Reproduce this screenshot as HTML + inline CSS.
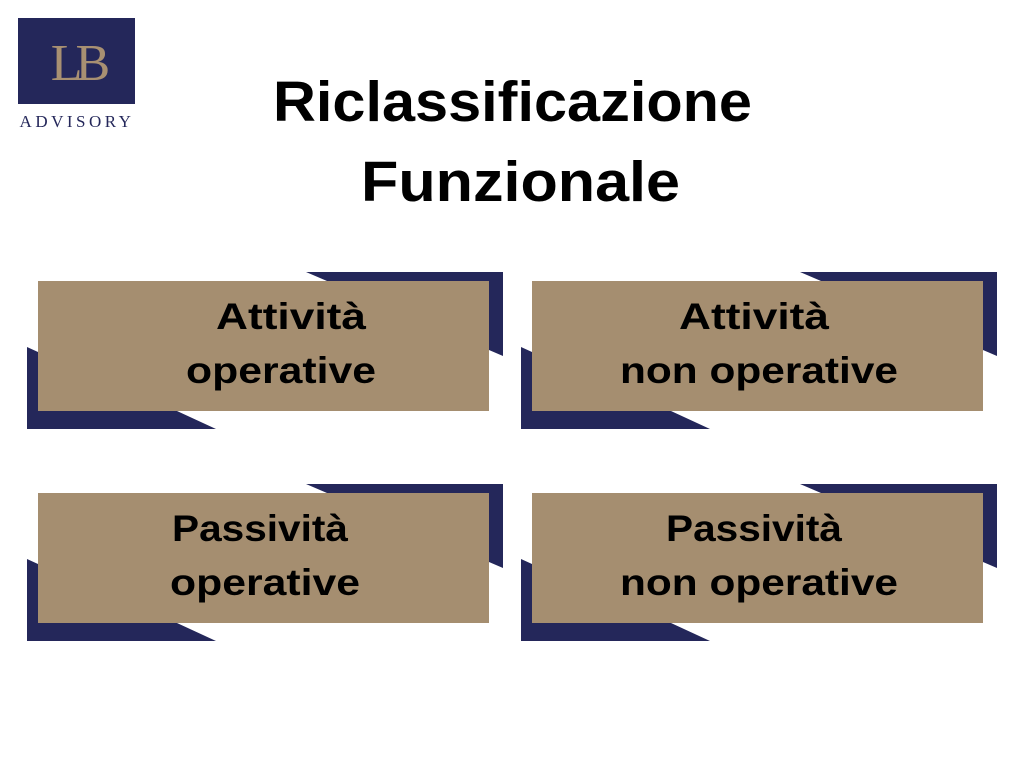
<!DOCTYPE html>
<html><head><meta charset="utf-8"><style>
html,body{margin:0;padding:0;background:#fff;width:1024px;height:768px;overflow:hidden}
</style></head><body>
<svg width="1024" height="768" xmlns="http://www.w3.org/2000/svg">
<rect x="18" y="18" width="117" height="86" fill="#24275a"/>
<text x="77" y="80" text-anchor="middle" font-family="Liberation Serif, serif" font-size="52" fill="#a89072" letter-spacing="-7">LB</text>
<text x="77" y="127" text-anchor="middle" font-family="Liberation Serif, serif" font-size="17" fill="#24275a" letter-spacing="3.5">ADVISORY</text>
<g font-family="Liberation Sans, sans-serif" font-weight="bold" font-size="57" fill="#000">
<text x="273" y="121" textLength="479" lengthAdjust="spacingAndGlyphs">Riclassificazione</text>
<text x="361" y="201" textLength="319" lengthAdjust="spacingAndGlyphs">Funzionale</text>
</g>
<defs>
<g id="box">
<polygon points="306,272 503,272 503,356 489,350 489,281 327,281" fill="#24275a"/>
<polygon points="27,347 38,352 38,411 177,411 216,429 27,429" fill="#24275a"/>
<rect x="38" y="281" width="451" height="130" fill="#a58e70"/>
</g>
</defs>
<use href="#box"/>
<use href="#box" transform="translate(494,0)"/>
<use href="#box" transform="translate(0,212)"/>
<use href="#box" transform="translate(494,212)"/>
<g font-family="Liberation Sans, sans-serif" font-weight="bold" font-size="37" fill="#000" lengthAdjust="spacingAndGlyphs">
<text x="216" y="329" textLength="150" lengthAdjust="spacingAndGlyphs">Attività</text>
<text x="186" y="383" textLength="190" lengthAdjust="spacingAndGlyphs">operative</text>
<text x="679" y="329" textLength="150" lengthAdjust="spacingAndGlyphs">Attività</text>
<text x="620" y="383" textLength="278" lengthAdjust="spacingAndGlyphs">non operative</text>
<text x="172" y="541" textLength="176" lengthAdjust="spacingAndGlyphs">Passività</text>
<text x="170" y="595" textLength="190" lengthAdjust="spacingAndGlyphs">operative</text>
<text x="666" y="541" textLength="176" lengthAdjust="spacingAndGlyphs">Passività</text>
<text x="620" y="595" textLength="278" lengthAdjust="spacingAndGlyphs">non operative</text>
</g>
</svg>
</body></html>
